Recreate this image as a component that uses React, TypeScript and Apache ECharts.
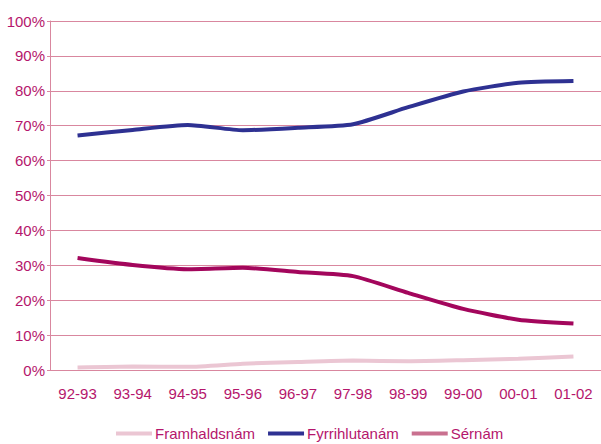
import React, { useEffect, useRef } from "react";
import * as echarts from "echarts";

const categories = ["92-93", "93-94", "94-95", "95-96", "96-97", "97-98", "98-99", "99-00", "00-01", "01-02"];
const framhaldsnam = [0.7, 1.0, 0.9, 1.8, 2.3, 2.7, 2.5, 2.8, 3.2, 3.9];
const fyrrihlutanam = [67.2, 68.8, 70.2, 68.7, 69.4, 70.4, 75.3, 79.8, 82.3, 82.8];
const sernam = [32.1, 30.1, 28.9, 29.3, 28.1, 26.9, 22.1, 17.5, 14.4, 13.3];

const labelColor = "#b5166c";
const gridColor = "#d9879f";

export default function App() {
  const ref = useRef<HTMLDivElement>(null);
  useEffect(() => {
    const chart = echarts.init(ref.current!, null, { renderer: "svg" });
    const font = "'Liberation Sans', Arial, sans-serif";
    chart.setOption({
      animation: false,
      textStyle: { fontFamily: font },
      grid: { left: 50, right: -6, top: 21, bottom: 74 },
      legend: {
        top: 426,
        left: 116,
        padding: 0,
        itemWidth: 36,
        itemHeight: 4,
        itemGap: 13,
        icon: "rect",
        textStyle: { color: labelColor, fontSize: 15, fontFamily: font, padding: [0, 0, 0, -2] },
        data: [
          { name: "Framhaldsnám", itemStyle: { color: "#ebc6d3" } },
          { name: "Fyrrihlutanám", itemStyle: { color: "#2e3192" } },
          { name: "Sérnám", itemStyle: { color: "#c9708f" } },
        ],
      },
      xAxis: {
        type: "category",
        data: categories,
        boundaryGap: true,
        axisLine: { lineStyle: { color: gridColor, width: 1 } },
        axisTick: { alignWithLabel: true, length: 5, lineStyle: { color: gridColor } },
        axisLabel: { color: labelColor, fontSize: 15, margin: 16, interval: 0, fontFamily: font },
      },
      yAxis: {
        type: "value",
        min: 0,
        max: 100,
        interval: 10,
        axisLine: { show: true, lineStyle: { color: gridColor } },
        axisTick: { show: true, length: 3, lineStyle: { color: gridColor } },
        axisLabel: { color: labelColor, fontSize: 15, margin: 5, formatter: "{value}%", fontFamily: font },
        splitLine: { lineStyle: { color: gridColor, width: 1 } },
      },
      series: [
        {
          name: "Framhaldsnám",
          type: "line",
          data: framhaldsnam,
          smooth: 0.2,
          showSymbol: false,
          lineStyle: { color: "#ebc6d3", width: 4 },
          itemStyle: { color: "#ebc6d3" },
        },
        {
          name: "Fyrrihlutanám",
          type: "line",
          data: fyrrihlutanam,
          smooth: 0.2,
          showSymbol: false,
          lineStyle: { color: "#2e3192", width: 4 },
          itemStyle: { color: "#2e3192" },
        },
        {
          name: "Sérnám",
          type: "line",
          data: sernam,
          smooth: 0.2,
          showSymbol: false,
          lineStyle: { color: "#a3065c", width: 4 },
          itemStyle: { color: "#c9708f" },
        },
      ],
    });
    return () => chart.dispose();
  }, []);
  return <div ref={ref} style={{ width: 601, height: 444, position: "absolute", left: 0, top: 0 }} />;
}
